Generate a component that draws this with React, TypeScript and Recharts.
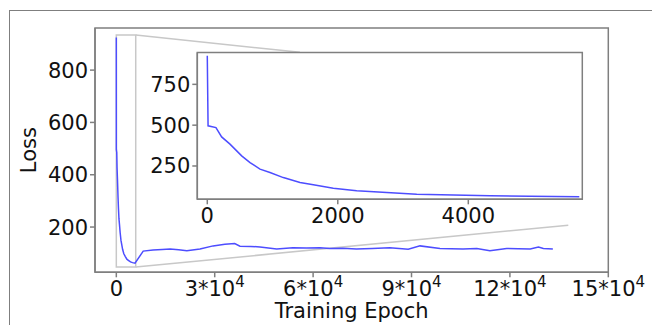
import { LineChart, Line, XAxis, YAxis, ReferenceArea, ReferenceLine, Label } from "recharts";

// early part of training (also shown in the inset)
const earlyEpochs = [0, 12, 133, 220, 348, 527, 655, 808, 961, 1165, 1421, 1625, 1931, 2290, 2750, 3210, 3770, 4333, 4946, 5701];
const earlyLoss = [925, 496, 485, 428, 384, 312, 271, 231, 210, 179, 149, 135, 114, 98, 87, 77, 72, 67, 64, 62];

// rest of training (main plot only)
const lateEpochs = [8200, 11200, 14000, 16400, 19000, 21500, 25500, 29500, 33100, 36100, 37700, 41000, 43800, 48900, 53800, 58000, 62100, 65100, 69000, 73200, 78000, 83400, 89000, 92600, 98700, 102000, 105700, 109900, 113900, 119000, 122500, 126200, 128700, 130200, 133100];
const lateLoss = [108, 112, 114, 116, 113, 109, 116, 128, 134, 137, 127, 126, 124, 116, 121, 120, 121, 118, 119, 116, 118, 121, 115, 128, 118, 117, 116, 118, 109, 118, 117, 116, 124, 118, 116];

const mainXTicks = [0, 30000, 60000, 90000, 120000, 150000];
const mainXTickLabels = ["0", "3*10^4", "6*10^4", "9*10^4", "12*10^4", "15*10^4"];
const mainYTicks = [200, 400, 600, 800];
const insetXTicks = [0, 2000, 4000];
const insetYTicks = [250, 500, 750];

const mainXDomain = [-6500, 150000];
const mainYDomain = [27, 961];
const insetXDomain = [-153, 5747];
const insetYDomain = [46, 945];

// zoom box and connector lines (data coords of main plot)
const zoomBox = { x1: 0, x2: 5915, y1: 47, y2: 934 };
const topConnector = [{ x: 5915, y: 934 }, { x: 56000, y: 868 }];
const bottomConnector = [{ x: 5915, y: 47 }, { x: 137800, y: 207 }];

const allLoss = [...earlyLoss, ...lateLoss];
const mainData = [...earlyEpochs, ...lateEpochs].map((e, i) => ({ epoch: e, loss: allLoss[i] }));
const insetData = earlyEpochs.map((e, i) => ({ epoch: e, loss: earlyLoss[i] }));

const FONT = "DejaVu Sans";
const SPINE = "#7f7f7f";
const BLUE = "#4d4dff";
const LIGHT = "#c8c8c8";

const MainXTick = ({ x, y, payload }: any) => {
  const idx = mainXTicks.indexOf(payload.value);
  const [base, exp] = (mainXTickLabels[idx] ?? String(payload.value)).split("^");
  return (
    <text x={x} y={y} dy={17} textAnchor="middle" fontSize={21} fontFamily={FONT} fill="#111">
      {base}
      {exp && (
        <tspan dy={-9} fontSize={15}>
          {exp}
        </tspan>
      )}
    </text>
  );
};

const PlainXTick = ({ x, y, payload }: any) => (
  <text x={x} y={y} dy={17} textAnchor="middle" fontSize={21} fontFamily={FONT} fill="#111">
    {payload.value}
  </text>
);

const YTick = ({ x, y, payload }: any) => (
  <text x={x} y={y} dy={7.5} textAnchor="end" fontSize={21} fontFamily={FONT} fill="#111">
    {payload.value}
  </text>
);

const LossLabel = ({ viewBox }: any) => {
  const cx = viewBox.x + 16;
  const cy = viewBox.y + viewBox.height / 2;
  return (
    <text
      x={cx}
      y={cy}
      transform={`rotate(-90 ${cx} ${cy})`}
      textAnchor="middle"
      dy={7}
      fontSize={21}
      fontFamily={FONT}
      fill="#111"
    >
      Loss
    </text>
  );
};

const EpochLabel = ({ viewBox }: any) => (
  <text
    x={viewBox.x + viewBox.width / 2}
    y={viewBox.y + 46}
    textAnchor="middle"
    fontSize={21}
    fontFamily={FONT}
    fill="#111"
  >
    Training Epoch
  </text>
);

export default function App() {
  return (
    <div style={{ position: "relative", width: 652, height: 325, overflow: "hidden" }}>
      <style>{"body{margin:0}"}</style>
      <div
        style={{
          position: "absolute",
          left: 9,
          top: 10,
          width: 643,
          height: 315,
          boxSizing: "border-box",
          borderTop: `1.5px solid ${SPINE}`,
          borderLeft: `1.5px solid ${SPINE}`,
        }}
      />
      <div style={{ position: "absolute", left: 8, top: 8 }}>
        <LineChart
          width={644}
          height={317}
          data={mainData}
          margin={{ top: 20, right: 43.7, left: 5, bottom: 2.7 }}
        >
          <XAxis
            dataKey="epoch"
            type="number"
            domain={mainXDomain}
            ticks={mainXTicks}
            allowDataOverflow
            height={50}
            tickSize={5}
            tickMargin={2}
            stroke={SPINE}
            strokeWidth={1.5}
            tick={<MainXTick />}
          >
            <Label content={<EpochLabel />} />
          </XAxis>
          <YAxis
            type="number"
            domain={mainYDomain}
            ticks={mainYTicks}
            allowDataOverflow
            width={82}
            tickSize={5}
            tickMargin={2}
            stroke={SPINE}
            strokeWidth={1.5}
            tick={<YTick />}
          >
            <Label content={<LossLabel />} />
          </YAxis>
          <ReferenceArea
            x1={mainXDomain[0]}
            x2={mainXDomain[1]}
            y1={mainYDomain[0]}
            y2={mainYDomain[1]}
            fill="none"
            stroke={SPINE}
            strokeWidth={1.5}
            fillOpacity={0}
          />
          <ReferenceArea
            x1={zoomBox.x1}
            x2={zoomBox.x2}
            y1={zoomBox.y1}
            y2={zoomBox.y2}
            fill="none"
            fillOpacity={0}
            stroke={LIGHT}
            strokeWidth={1.5}
          />
          <ReferenceLine segment={topConnector} stroke={LIGHT} strokeWidth={1.5} />
          <ReferenceLine segment={bottomConnector} stroke={LIGHT} strokeWidth={1.5} />
          <Line
            dataKey="loss"
            type="linear"
            stroke={BLUE}
            strokeWidth={1.5}
            dot={false}
            isAnimationActive={false}
          />
        </LineChart>
      </div>
      <div style={{ position: "absolute", left: 138, top: 48 }}>
        <LineChart
          width={470}
          height={185}
          data={insetData}
          margin={{ top: 4.5, right: 25.7, left: 4.3, bottom: 3.7 }}
        >
          <XAxis
            dataKey="epoch"
            type="number"
            domain={insetXDomain}
            ticks={insetXTicks}
            allowDataOverflow
            height={30}
            tickSize={5}
            tickMargin={2}
            stroke={SPINE}
            strokeWidth={1.5}
            tick={<PlainXTick />}
          />
          <YAxis
            type="number"
            domain={insetYDomain}
            ticks={insetYTicks}
            allowDataOverflow
            width={55}
            tickSize={5}
            tickMargin={2}
            stroke={SPINE}
            strokeWidth={1.5}
            tick={<YTick />}
          />
          <ReferenceArea
            x1={insetXDomain[0]}
            x2={insetXDomain[1]}
            y1={insetYDomain[0]}
            y2={insetYDomain[1]}
            fill="#fff"
            fillOpacity={1}
            stroke={SPINE}
            strokeWidth={1.5}
          />
          <Line
            dataKey="loss"
            type="linear"
            stroke={BLUE}
            strokeWidth={1.5}
            dot={false}
            isAnimationActive={false}
          />
        </LineChart>
      </div>
    </div>
  );
}
